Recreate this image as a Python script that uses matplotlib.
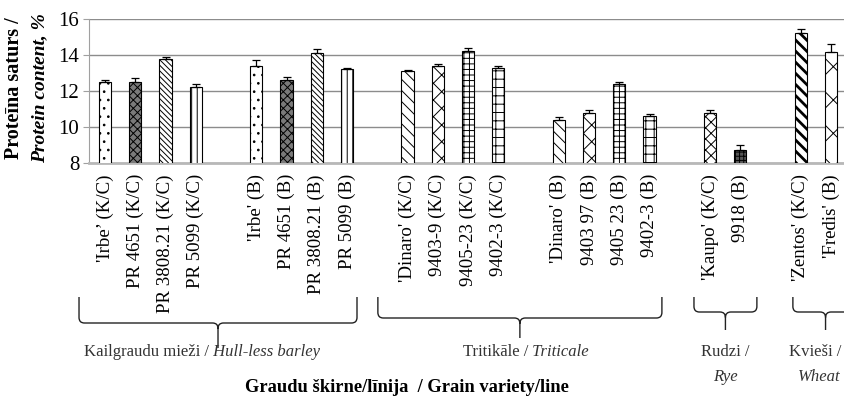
import numpy as np
import matplotlib
matplotlib.use("Agg")
import matplotlib.pyplot as plt
from matplotlib.path import Path
from matplotlib.patches import PathPatch
from matplotlib.transforms import blended_transform_factory, offset_copy

plt.rcParams['font.family'] = ['Liberation Serif', 'DejaVu Serif']
plt.rcParams['hatch.linewidth'] = 0.7

# --- datos ---
labels = ["'Irbe’ (K/C)", "PR 4651 (K/C)", "PR 3808.21 (K/C)", "PR 5099 (K/C)",
          "'Irbe' (B)", "PR 4651 (B)", "PR 3808.21 (B)", "PR 5099 (B)",
          "'Dinaro' (K/C)", "9403-9 (K/C)", "9405-23 (K/C)", "9402-3 (K/C)",
          "'Dinaro' (B)", "9403 97 (B)", "9405 23 (B)", "9402-3 (B)",
          "'Kaupo' (K/C)", "9918 (B)",
          "'Zentos' (K/C)", "'Fredis' (B)"]
values = [12.5, 12.5, 13.8, 12.25, 13.4, 12.6, 14.1, 13.2,
          13.1, 13.4, 14.25, 13.3, 10.4, 10.8, 12.4, 10.6,
          10.8, 8.7, 15.25, 14.15]
errors = [0.1, 0.2, 0.1, 0.12, 0.3, 0.2, 0.25, 0.08,
          0.07, 0.1, 0.15, 0.08, 0.15, 0.15, 0.1, 0.1,
          0.15, 0.28, 0.2, 0.45]
group_sizes = [4, 4, 4, 4, 2, 2]

# patrones de relleno por barra
hatches = ['..', 'xxxx', '\\' * 6, '|||', '..', 'xxxx', '\\' * 6, '|||',
           '\\\\\\', 'xx', '+++', '++', '\\\\\\', 'xx', '+++', '++',
           'xxx', '++++', '\\\\\\', 'x']
faces = ['white', '#7a7a7a', 'white', 'white', 'white', '#7a7a7a', 'white', 'white',
         'white', 'white', 'white', 'white', 'white', 'white', 'white', 'white',
         'white', '#555555', 'white', 'white']

# posiciones: un hueco entre grupos
x = []
pos = 0
for n in group_sizes:
    x.extend(range(pos, pos + n))
    pos += n + 1
x = np.array(x)

fig = plt.figure(figsize=(8.44, 3.98), dpi=100)
ax = fig.add_axes([89 / 844, 1 - 163 / 398, 1 - 89 / 844, 144 / 398])

bars = ax.bar(x, values, width=0.4, color=faces, edgecolor='black', linewidth=0.8,
              hatch=hatches, zorder=3)
ax.errorbar(x, values, yerr=[np.zeros(len(errors)), errors], fmt='none',
            ecolor='black', elinewidth=0.9, capsize=3, capthick=0.9, zorder=4)
try:
    bars[18].set_hatch_linewidth(2.0)
except AttributeError:
    pass

ax.set_ylim(8, 16)
ax.set_xlim(-0.53, 24.43)
ax.set_yticks([8, 10, 12, 14, 16])
ax.yaxis.grid(True, color='#8c8c8c', linewidth=1.0, zorder=0)
ax.set_axisbelow(True)
for s in ['top', 'right']:
    ax.spines[s].set_visible(False)
ax.spines['left'].set_color('#a0a0a0')
ax.spines['bottom'].set_color('#b8b8b8')
ax.spines['bottom'].set_linewidth(2)
ax.tick_params(axis='y', colors='#a0a0a0', length=4, labelsize=15, labelcolor='black', pad=3)
ax.set_xticks(x)
ax.set_xticklabels(labels, rotation=90, va='top', ha='center', fontsize=13.6)
ax.tick_params(axis='x', length=0, pad=8)

# etiqueta eje Y (dos líneas)
fig.text(14 / 844, 1 - 88 / 398, 'Proteīna saturs /', rotation=90, ha='center', va='center',
         fontsize=14.5, fontweight='bold')
fig.text(40 / 844, 1 - 88 / 398, 'Protein content, %', rotation=90, ha='center', va='center',
         fontsize=14, fontweight='bold', style='italic')

# llaves de los grupos
bt = blended_transform_factory(ax.transData, fig.transFigure)


def llave(x0, x1, ytop, ybot, ytip):
    rx, ry = 0.18, 0.014
    xm = (x0 + x1) / 2
    verts = [(x0, ytop), (x0, ybot + ry), (x0, ybot), (x0 + rx, ybot),
             (xm - rx, ybot), (xm, ybot), (xm, ybot - ry), (xm, ytip),
             (xm, ybot - ry), (xm, ybot), (xm + rx, ybot),
             (x1 - rx, ybot), (x1, ybot), (x1, ybot + ry), (x1, ytop)]
    codes = [Path.MOVETO, Path.LINETO, Path.CURVE3, Path.CURVE3,
             Path.LINETO, Path.CURVE3, Path.CURVE3, Path.LINETO,
             Path.MOVETO, Path.CURVE3, Path.CURVE3,
             Path.LINETO, Path.CURVE3, Path.CURVE3, Path.LINETO]
    p = PathPatch(Path(verts, codes), transform=bt, fill=False, lw=1.0,
                  edgecolor='#222222', clip_on=False)
    fig.add_artist(p)


llave(-0.86, 8.33, 1 - 297 / 398, 1 - 323 / 398, 1 - 348 / 398)
llave(9.02, 18.41, 1 - 297 / 398, 1 - 318 / 398, 1 - 338 / 398)
llave(19.47, 21.55, 1 - 297 / 398, 1 - 312 / 398, 1 - 330 / 398)
llave(22.74, 24.9, 1 - 297 / 398, 1 - 312 / 398, 1 - 330 / 398)

renderer = fig.canvas.get_renderer()


def texto_mixto(xd, yf, normal, cursiva, color='#333333'):
    t1 = fig.text(0, 0, normal, fontsize=12, color=color, ha='left', va='center')
    t2 = fig.text(0, 0, cursiva, fontsize=12, color=color, style='italic', ha='left', va='center')
    w1 = t1.get_window_extent(renderer).width
    w2 = t2.get_window_extent(renderer).width
    tot = w1 + w2
    t1.set_transform(offset_copy(bt, fig=fig, x=-tot / 2, y=0, units='dots'))
    t2.set_transform(offset_copy(bt, fig=fig, x=-tot / 2 + w1, y=0, units='dots'))
    t1.set_position((xd, yf))
    t2.set_position((xd, yf))


texto_mixto(3.21, 1 - 352 / 398, 'Kailgraudu mieži /', ' Hull-less barley')
texto_mixto(13.92, 1 - 352 / 398, 'Tritikāle /', ' Triticale')
fig.text(20.5, 1 - 352 / 398, 'Rudzi /', transform=bt, fontsize=12, color='#333333',
         ha='center', va='center')
fig.text(20.5, 1 - 377 / 398, 'Rye', transform=bt, fontsize=12, color='#333333',
         style='italic', ha='center', va='center')
# trigo: pegado al borde derecho para que no se corte
fig.text(841 / 844, 1 - 352 / 398, 'Kvieši /', fontsize=12, color='#333333',
         ha='right', va='center')
fig.text(841 / 844, 1 - 377 / 398, 'Wheat', fontsize=12, color='#333333',
         style='italic', ha='right', va='center')

fig.text(407 / 844, 1 - 388 / 398, 'Graudu škirne/līnija  / Grain variety/line',
         ha='center', va='center', fontsize=13.3, fontweight='bold')

fig.savefig('out.png', dpi=100)
